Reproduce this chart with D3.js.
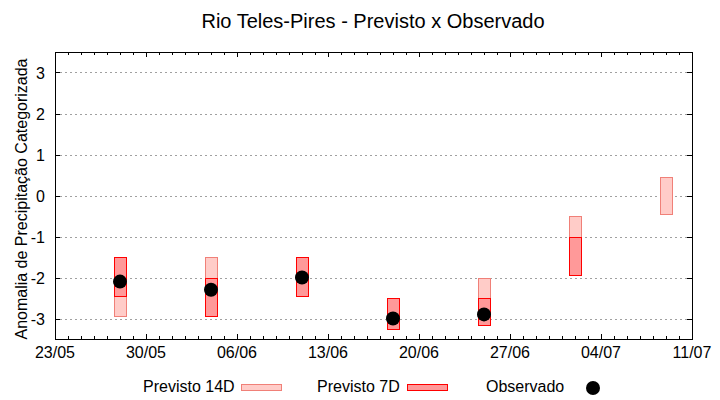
<!DOCTYPE html>
<html><head><meta charset="utf-8">
<script src="https://cdn.jsdelivr.net/npm/d3@7"></script>
<style>body{margin:0;background:#fff}svg{display:block}text{font-family:"Liberation Sans",Arial,sans-serif;fill:#000}</style>
</head><body><svg id="c" width="720" height="400"></svg>
<script>
const title = "Rio Teles-Pires - Previsto x Observado";
const yLabel = "Anomalia de Precipitação Categorizada";
const dates = ["2023-05-28","2023-06-04","2023-06-11","2023-06-18","2023-06-25","2023-07-02","2023-07-09"];
const p14Top = [-1.5, -1.5, -1.5, -2.5, -2.0, -0.5, 0.45];
const p14Bot = [-2.95, -2.45, -2.45, -3.25, -2.5, -1.0, -0.45];
const p7Top = [-1.5, -2.0, -1.5, -2.5, -2.5, -1.0, null];
const p7Bot = [-2.45, -2.95, -2.45, -3.25, -3.15, -1.95, null];
const obs = [-2.1, -2.3, -2.0, -3.0, -2.9, null, null];
const yTicks = [-3, -2, -1, 0, 1, 2, 3];
const xStart = "2023-05-23", xEnd = "2023-07-11";
const legendNames = ["Previsto 14D", "Previsto 7D", "Observado"];

const parse = d3.timeParse("%Y-%m-%d");
const svg = d3.select("#c");
const L = 55, R = 692, T = 52, B = 339;
const x = d3.scaleTime().domain([parse(xStart), parse(xEnd)]).range([L, R]);
const y = d3.scaleLinear().domain([-3.5, 3.5]).range([B, T]);
const c14 = {fill: "#ffccc8", stroke: "#f08078"};
const c7 = {fill: "#ff9999", stroke: "#ff0000"};
const halfW = 6;
const dotR = 7;

// grid
svg.append("g").selectAll("line").data(yTicks).join("line")
  .attr("x1", L).attr("x2", R)
  .attr("y1", d => Math.round(y(d)) + 0.5).attr("y2", d => Math.round(y(d)) + 0.5)
  .attr("stroke", "#a0a0a0").attr("stroke-dasharray", "2,3");

const rows = dates.map((d, i) => ({d: parse(d), t14: p14Top[i], b14: p14Bot[i], t7: p7Top[i], b7: p7Bot[i], o: obs[i]}));

function bars(key1, key2, col) {
  svg.append("g").selectAll("rect").data(rows.filter(r => r[key1] != null)).join("rect")
    .attr("x", r => Math.round(x(r.d)) - halfW + 0.5)
    .attr("width", halfW * 2)
    .attr("y", r => Math.round(y(r[key1])) + 0.5)
    .attr("height", r => Math.round(y(r[key2])) - Math.round(y(r[key1])))
    .attr("fill", col.fill).attr("stroke", col.stroke).attr("stroke-width", 1);
}
bars("t14", "b14", c14);
bars("t7", "b7", c7);

svg.append("g").selectAll("circle").data(rows.filter(r => r.o != null)).join("circle")
  .attr("cx", r => x(r.d)).attr("cy", r => y(r.o)).attr("r", dotR).attr("fill", "#000");

// ticks
const g = svg.append("g").attr("stroke", "#000").attr("stroke-width", 1);
const days = d3.timeDay.range(parse(xStart), d3.timeDay.offset(parse(xEnd), 1));
const majors = d3.timeDay.range(parse(xStart), d3.timeDay.offset(parse(xEnd), 1), 7);
days.forEach(d => {
  const isMaj = majors.some(m => +m === +d);
  const len = isMaj ? 5 : 3;
  const px = Math.round(x(d)) + 0.5;
  g.append("line").attr("x1", px).attr("x2", px).attr("y1", B).attr("y2", B - len);
  g.append("line").attr("x1", px).attr("x2", px).attr("y1", T).attr("y2", T + len);
});
yTicks.forEach(v => {
  const py = Math.round(y(v)) + 0.5;
  g.append("line").attr("x1", L).attr("x2", L + 5).attr("y1", py).attr("y2", py);
  g.append("line").attr("x1", R).attr("x2", R - 5).attr("y1", py).attr("y2", py);
});
g.append("rect").attr("x", L + 0.5).attr("y", T + 0.5).attr("width", R - L).attr("height", B - T).attr("fill", "none");

// tick labels
const fmt = d3.timeFormat("%d/%m");
svg.append("g").selectAll("text").data(majors).join("text")
  .attr("x", d => x(d)).attr("y", 358).attr("text-anchor", "middle").attr("font-size", 16).text(d => fmt(d));
svg.append("g").selectAll("text").data(yTicks).join("text")
  .attr("x", 45).attr("y", d => y(d) + 6).attr("text-anchor", "end").attr("font-size", 16).text(d => d);

svg.append("text").attr("x", 373).attr("y", 28).attr("text-anchor", "middle").attr("font-size", 20).text(title);
svg.append("text").attr("transform", "translate(27,199) rotate(-90)").attr("text-anchor", "middle").attr("font-size", 16).text(yLabel);

// legend
const lg = svg.append("g");
lg.append("text").attr("x", 143).attr("y", 392).attr("font-size", 16).text(legendNames[0]);
lg.append("rect").attr("x", 241.5).attr("y", 384.5).attr("width", 40).attr("height", 6).attr("fill", c14.fill).attr("stroke", c14.stroke);
lg.append("text").attr("x", 317).attr("y", 392).attr("font-size", 16).text(legendNames[1]);
lg.append("rect").attr("x", 407.5).attr("y", 384.5).attr("width", 40).attr("height", 6).attr("fill", c7.fill).attr("stroke", c7.stroke);
lg.append("text").attr("x", 486).attr("y", 392).attr("font-size", 16).text(legendNames[2]);
lg.append("circle").attr("cx", 593).attr("cy", 388).attr("r", dotR).attr("fill", "#000");
</script></body></html>
